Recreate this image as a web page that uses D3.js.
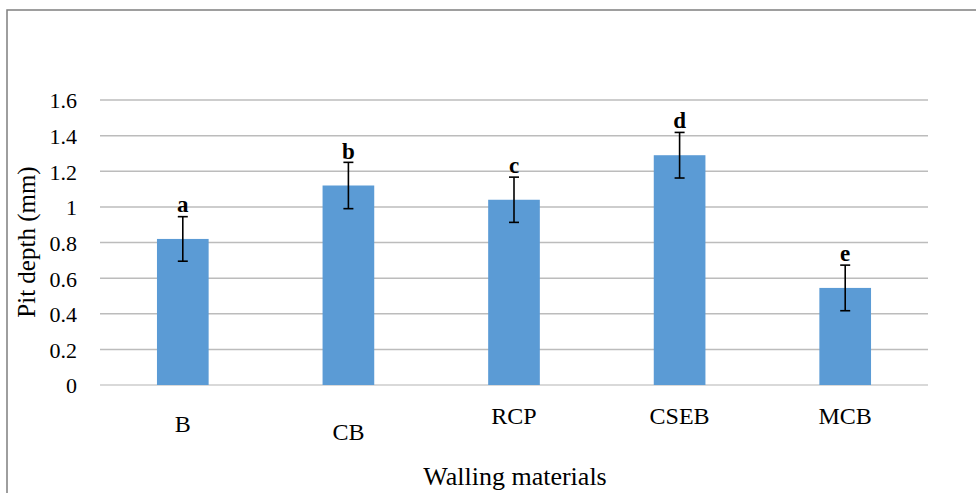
<!DOCTYPE html>
<html>
<head>
<meta charset="utf-8">
<script src="https://cdn.jsdelivr.net/npm/d3@7"></script>
<style>
  body { margin: 0; background: #fff; }
</style>
</head>
<body>
<div id="chart"></div>
<script>
// data
var materials = ['B', 'CB', 'RCP', 'CSEB', 'MCB'];
var pitDepth = [0.82, 1.12, 1.04, 1.29, 0.545];
var errors = [0.125, 0.13, 0.127, 0.128, 0.128];
var letters = ['a', 'b', 'c', 'd', 'e'];
var yTicks = [0, 0.2, 0.4, 0.6, 0.8, 1, 1.2, 1.4, 1.6];
// category labels in the original sit at slightly different heights
var labelDrop = [8, 16, 0, 0, 0];

var FONT = '"Liberation Serif", "Times New Roman", serif';

var W = 976, H = 493;
var margin = { top: 100, right: 48, bottom: 108, left: 100 };
var width = W - margin.left - margin.right,
    height = H - margin.top - margin.bottom;

var svg = d3.select('#chart').append('svg')
    .attr('width', W)
    .attr('height', H);

// outer frame (only top and left edges are visible)
svg.append('rect')
    .attr('x', 7).attr('y', 10)
    .attr('width', W + 20).attr('height', H + 20)
    .attr('fill', 'none')
    .attr('stroke', '#7f7f7f')
    .attr('stroke-width', 1.5);

var g = svg.append('g')
    .attr('transform', 'translate(' + margin.left + ',' + margin.top + ')');

var x = d3.scaleBand()
    .domain(materials)
    .range([0, width])
    .paddingInner(0.688)
    .paddingOuter(0.344);

var y = d3.scaleLinear()
    .domain([0, 1.6])
    .range([height, 0]);

// gridlines
g.selectAll('.grid')
    .data(yTicks)
    .enter().append('line')
    .attr('class', 'grid')
    .attr('x1', 0).attr('x2', width)
    .attr('y1', function (d) { return y(d); })
    .attr('y2', function (d) { return y(d); })
    .attr('stroke', function (d) { return d === 0 ? '#d9d9d9' : '#bcbcbc'; })
    .attr('stroke-width', function (d) { return d === 0 ? 2 : 1.5; });

// y axis (labels only)
var yAxis = d3.axisLeft(y)
    .tickValues(yTicks)
    .tickSize(0)
    .tickPadding(23)
    .tickFormat(function (d) { return String(d); });

var gy = g.append('g').call(yAxis)
    .attr('font-family', FONT);
gy.select('.domain').remove();
gy.selectAll('text')
    .style('font-family', FONT)
    .style('font-size', '22px')
    .attr('fill', '#000')
    .attr('dy', '0.36em');

// bars
g.selectAll('.bar')
    .data(materials)
    .enter().append('rect')
    .attr('class', 'bar')
    .attr('x', function (d) { return x(d); })
    .attr('width', x.bandwidth())
    .attr('y', function (d, i) { return y(pitDepth[i]); })
    .attr('height', function (d, i) { return height - y(pitDepth[i]); })
    .attr('fill', '#5b9bd5');

// error bars
var eb = g.selectAll('.err')
    .data(materials)
    .enter().append('g')
    .attr('class', 'err')
    .attr('stroke', '#000')
    .attr('stroke-width', 1.6);

eb.append('line')
    .attr('x1', function (d) { return x(d) + x.bandwidth() / 2; })
    .attr('x2', function (d) { return x(d) + x.bandwidth() / 2; })
    .attr('y1', function (d, i) { return y(pitDepth[i] + errors[i]); })
    .attr('y2', function (d, i) { return y(pitDepth[i] - errors[i]); });

[1, -1].forEach(function (s) {
    eb.append('line')
        .attr('x1', function (d) { return x(d) + x.bandwidth() / 2 - 5; })
        .attr('x2', function (d) { return x(d) + x.bandwidth() / 2 + 5; })
        .attr('y1', function (d, i) { return y(pitDepth[i] + s * errors[i]); })
        .attr('y2', function (d, i) { return y(pitDepth[i] + s * errors[i]); });
});

// significance letters
g.selectAll('.letter')
    .data(materials)
    .enter().append('text')
    .attr('class', 'letter')
    .attr('x', function (d) { return x(d) + x.bandwidth() / 2; })
    .attr('y', function (d, i) { return y(pitDepth[i]) - 27; })
    .attr('text-anchor', 'middle')
    .style('font-family', FONT)
    .style('font-size', '23px')
    .style('font-weight', 'bold')
    .text(function (d, i) { return letters[i]; });

// category labels
g.selectAll('.cat')
    .data(materials)
    .enter().append('text')
    .attr('class', 'cat')
    .attr('x', function (d) { return x(d) + x.bandwidth() / 2; })
    .attr('y', function (d, i) { return height + 39 + labelDrop[i]; })
    .attr('text-anchor', 'middle')
    .style('font-family', FONT)
    .style('font-size', '24px')
    .text(function (d) { return d; });

// axis titles
svg.append('text')
    .attr('x', 515)
    .attr('y', 485)
    .attr('text-anchor', 'middle')
    .style('font-family', FONT)
    .style('font-size', '26px')
    .text('Walling materials');

svg.append('text')
    .attr('transform', 'translate(35,242) rotate(-90)')
    .attr('text-anchor', 'middle')
    .style('font-family', FONT)
    .style('font-size', '25px')
    .text('Pit depth (mm)');
</script>
</body>
</html>
